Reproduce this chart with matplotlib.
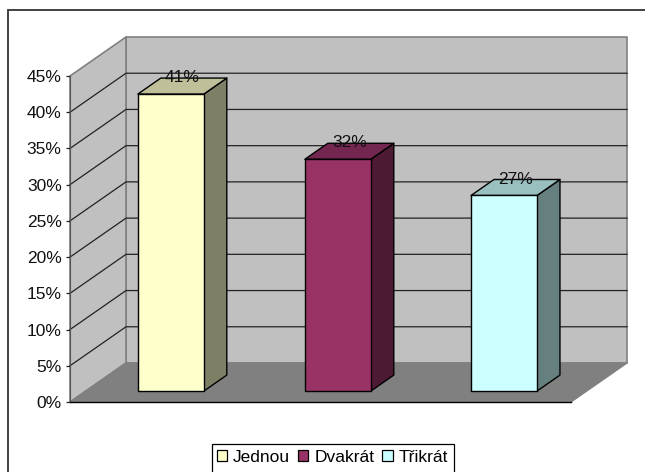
import matplotlib
matplotlib.use('Agg')
import matplotlib.pyplot as plt
import numpy as np
from matplotlib.patches import Patch, Polygon, Rectangle

plt.rcParams['font.family'] = 'Liberation Sans'

categories = ['Jednou', 'Dvakrát', 'Třikrát']
values = [41, 32, 27]
value_labels = ['41%', '32%', '27%']
tick_values = [0, 5, 10, 15, 20, 25, 30, 35, 40, 45]
tick_labels = ['0%', '5%', '10%', '15%', '20%', '25%', '30%', '35%', '40%', '45%']
front_colors = ['#FFFFCC', '#993366', '#CCFFFF']
top_colors = ['#BFBF99', '#732650', '#99BFBF']
side_colors = ['#7F7F66', '#4D1A33', '#668080']

W, H = 645, 472
fig = plt.figure(figsize=(W / 100, H / 100), dpi=100, facecolor='white')

# Outer frame, runs off the right and bottom of the canvas
fig.add_artist(Rectangle((8 / W, -0.1), 1.1, 1.1 - 10 / H, transform=fig.transFigure,
                         fill=False, edgecolor='#333333', linewidth=1.3))

# Axes = the front plane of the 3D box
left, right, bottom, top = 70, 571, 402, 76
ax = fig.add_axes([left / W, 1 - bottom / H, (right - left) / W, (bottom - top) / H])
ax.set_xlim(0, 3)
ax.set_ylim(0, 45)
ax.patch.set_alpha(0)

# Oblique depth of the box, in data units
depth_x = 56 * 3 / (right - left)
depth_y = 39 * 45 / (bottom - top)


def proj(x, y, d=0.0):
    return (x + d * depth_x, y + d * depth_y)


def face(points, color, edge, z, lw=1.0):
    ax.add_patch(Polygon(points, closed=True, facecolor=color, edgecolor=edge,
                         linewidth=lw, zorder=z, clip_on=False, joinstyle='round'))


# Walls and floor
face([proj(0, 0, 1), proj(3, 0, 1), proj(3, 45, 1), proj(0, 45, 1)], '#C0C0C0', '#808080', 1, 1.2)
face([proj(0, 0, 0), proj(0, 0, 1), proj(0, 45, 1), proj(0, 45, 0)], '#C0C0C0', '#808080', 1, 1.2)
face([proj(0, 0, 0), proj(3, 0, 0), proj(3, 0, 1), proj(0, 0, 1)], '#808080', '#808080', 2, 1.0)

# Gridlines across the side wall and the back wall
for v in tick_values[1:-1]:
    xs, ys = zip(proj(0, v, 0), proj(0, v, 1), proj(3, v, 1))
    ax.plot(xs, ys, color='#222222', linewidth=0.9, zorder=1.5, clip_on=False)

# Bars
bar_centers = [0.51, 1.51, 2.505]
bar_width = 0.395
d0, d1 = 0.28, 0.69
for i, v in enumerate(values):
    x0 = bar_centers[i] - bar_width / 2
    x1 = bar_centers[i] + bar_width / 2
    face([proj(x1, 0, d0), proj(x1, 0, d1), proj(x1, v, d1), proj(x1, v, d0)],
         side_colors[i], 'black', 3)
    face([proj(x0, v, d0), proj(x1, v, d0), proj(x1, v, d1), proj(x0, v, d1)],
         top_colors[i], 'black', 3)
    face([proj(x0, 0, d0), proj(x1, 0, d0), proj(x1, v, d0), proj(x0, v, d0)],
         front_colors[i], 'black', 4)
    ax.annotate(value_labels[i], xy=proj(bar_centers[i], v, (d0 + d1) / 2), xytext=(0, 6),
                textcoords='offset points', ha='center', va='center',
                fontsize=12.5, color='#111111', zorder=6, annotation_clip=False)

# Axis
ax.set_xticks([])
ax.set_yticks(tick_values, tick_labels, fontsize=12.5, color='#111111')
ax.tick_params(axis='y', length=3, width=0.9, pad=3, color='#222222')
for s in ['top', 'right']:
    ax.spines[s].set_visible(False)
ax.spines['left'].set_color('#555555')
ax.spines['bottom'].set_color('black')
ax.spines['bottom'].set_zorder(5)
ax.spines['bottom'].set_linewidth(1.0)

# Legend box is cut by the canvas edge, so it is drawn apart from the entries
fig.add_artist(Rectangle((212 / W, -0.05), 242 / W, 0.05 + 1 - 444 / H, transform=fig.transFigure,
                         facecolor='white', edgecolor='black', linewidth=0.9))
handles = [Patch(facecolor=c, edgecolor='black', linewidth=0.9) for c in front_colors]
leg = fig.legend(handles, categories, loc='center', bbox_to_anchor=(332.5 / W, 1 - 457 / H),
                 ncol=3, fontsize=12.5, frameon=False,
                 handlelength=0.58, handleheight=0.58,
                 handletextpad=0.35, columnspacing=0.46, borderpad=0, borderaxespad=0)

fig.savefig('out.png', dpi=100)
